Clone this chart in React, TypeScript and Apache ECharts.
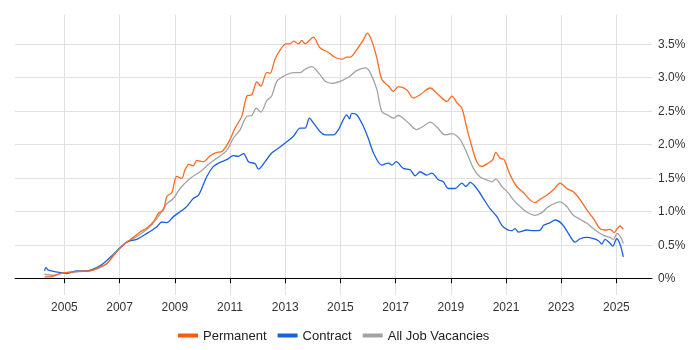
import React, { useEffect, useRef } from "react";
import * as echarts from "echarts";

const xTickYears = [2005, 2007, 2009, 2011, 2013, 2015, 2017, 2019, 2021, 2023, 2025];
const yTickValues = [0, 0.5, 1, 1.5, 2, 2.5, 3, 3.5];

const permYears = [2004.28, 2004.48, 2004.84, 2005.21, 2005.57, 2005.93, 2006.29, 2006.54, 2006.84, 2006.99, 2007.26, 2007.5, 2007.74, 2007.99, 2008.22, 2008.41, 2008.59, 2008.71, 2008.89, 2009.07, 2009.25, 2009.37, 2009.52, 2009.67, 2009.8, 2010.04, 2010.28, 2010.52, 2010.7, 2011.0, 2011.18, 2011.43, 2011.61, 2011.79, 2011.97, 2012.12, 2012.33, 2012.45, 2012.63, 2012.82, 2013.03, 2013.18, 2013.3, 2013.48, 2013.6, 2013.72, 2014.02, 2014.26, 2014.57, 2014.75, 2015.05, 2015.23, 2015.35, 2015.59, 2015.83, 2015.98, 2016.14, 2016.32, 2016.5, 2016.74, 2016.92, 2017.1, 2017.41, 2017.64, 2017.89, 2018.25, 2018.55, 2018.86, 2019.04, 2019.22, 2019.4, 2019.58, 2019.76, 2019.94, 2020.12, 2020.36, 2020.52, 2020.63, 2020.79, 2020.93, 2021.15, 2021.39, 2021.63, 2021.87, 2022.05, 2022.24, 2022.48, 2022.72, 2022.96, 2023.2, 2023.44, 2023.69, 2023.93, 2024.17, 2024.41, 2024.65, 2024.77, 2024.92, 2025.01, 2025.13, 2025.25];
const permValues = [0.02, 0.02, 0.07, 0.09, 0.105, 0.11, 0.17, 0.22, 0.37, 0.44, 0.54, 0.61, 0.69, 0.75, 0.84, 0.97, 1.02, 1.22, 1.28, 1.52, 1.49, 1.62, 1.7, 1.68, 1.76, 1.74, 1.83, 1.88, 1.89, 2.07, 2.24, 2.42, 2.72, 2.74, 2.93, 2.87, 3.07, 3.06, 3.27, 3.41, 3.5, 3.5, 3.54, 3.5, 3.55, 3.5, 3.6, 3.44, 3.37, 3.31, 3.27, 3.3, 3.3, 3.41, 3.56, 3.66, 3.54, 3.29, 2.97, 2.87, 2.79, 2.86, 2.81, 2.69, 2.74, 2.84, 2.74, 2.64, 2.72, 2.62, 2.54, 2.24, 1.97, 1.74, 1.67, 1.72, 1.77, 1.88, 1.79, 1.77, 1.54, 1.37, 1.28, 1.17, 1.13, 1.18, 1.24, 1.32, 1.42, 1.34, 1.29, 1.17, 1.02, 0.89, 0.74, 0.72, 0.73, 0.68, 0.73, 0.78, 0.73];

const contractYears = [2004.28, 2004.33, 2004.42, 2004.78, 2005.09, 2005.45, 2005.81, 2006.17, 2006.41, 2006.78, 2007.26, 2007.62, 2007.99, 2008.35, 2008.53, 2008.71, 2008.95, 2009.25, 2009.43, 2009.67, 2009.86, 2010.16, 2010.4, 2010.64, 2010.88, 2011.12, 2011.3, 2011.49, 2011.67, 2011.91, 2012.03, 2012.27, 2012.51, 2012.75, 2013.0, 2013.3, 2013.54, 2013.72, 2013.88, 2014.02, 2014.26, 2014.45, 2014.75, 2014.93, 2015.05, 2015.23, 2015.33, 2015.41, 2015.59, 2015.83, 2016.01, 2016.2, 2016.5, 2016.74, 2016.86, 2017.02, 2017.28, 2017.53, 2017.71, 2017.89, 2018.13, 2018.31, 2018.55, 2018.73, 2018.91, 2019.16, 2019.4, 2019.55, 2019.7, 2019.94, 2020.18, 2020.42, 2020.67, 2020.85, 2021.03, 2021.21, 2021.33, 2021.45, 2021.75, 2021.99, 2022.24, 2022.36, 2022.6, 2022.78, 2023.03, 2023.26, 2023.5, 2023.69, 2023.93, 2024.17, 2024.35, 2024.47, 2024.59, 2024.75, 2024.87, 2025.01, 2025.13, 2025.25];
const contractValues = [0.11, 0.16, 0.12, 0.09, 0.07, 0.11, 0.11, 0.16, 0.22, 0.36, 0.54, 0.58, 0.67, 0.77, 0.84, 0.83, 0.92, 1.01, 1.07, 1.19, 1.24, 1.52, 1.67, 1.73, 1.77, 1.83, 1.82, 1.86, 1.74, 1.71, 1.63, 1.74, 1.87, 1.94, 2.02, 2.12, 2.24, 2.24, 2.39, 2.32, 2.19, 2.14, 2.14, 2.22, 2.32, 2.44, 2.38, 2.46, 2.44, 2.27, 2.09, 1.87, 1.69, 1.72, 1.69, 1.74, 1.64, 1.62, 1.53, 1.59, 1.54, 1.57, 1.47, 1.44, 1.34, 1.34, 1.42, 1.37, 1.43, 1.34, 1.19, 1.04, 0.92, 0.79, 0.73, 0.71, 0.74, 0.69, 0.72, 0.71, 0.72, 0.79, 0.83, 0.87, 0.81, 0.67, 0.54, 0.59, 0.61, 0.59, 0.56, 0.51, 0.58, 0.53, 0.48, 0.59, 0.51, 0.32];

const allYears = [2004.28, 2004.6, 2004.96, 2005.21, 2005.57, 2005.93, 2006.29, 2006.54, 2006.84, 2006.99, 2007.26, 2007.5, 2007.99, 2008.35, 2008.71, 2008.95, 2009.19, 2009.55, 2009.92, 2010.28, 2010.52, 2010.88, 2011.12, 2011.37, 2011.61, 2011.79, 2011.95, 2012.12, 2012.33, 2012.51, 2012.7, 2013.0, 2013.3, 2013.54, 2013.72, 2013.96, 2014.26, 2014.45, 2014.69, 2014.99, 2015.29, 2015.59, 2015.9, 2016.08, 2016.32, 2016.5, 2016.74, 2016.92, 2017.1, 2017.46, 2017.77, 2018.01, 2018.25, 2018.49, 2018.79, 2019.04, 2019.34, 2019.58, 2019.82, 2020.06, 2020.3, 2020.49, 2020.63, 2020.85, 2021.09, 2021.27, 2021.51, 2021.75, 2022.05, 2022.3, 2022.54, 2022.96, 2023.2, 2023.44, 2023.69, 2023.93, 2024.23, 2024.53, 2024.77, 2024.89, 2025.03, 2025.16, 2025.25];
const allValues = [0.06, 0.045, 0.08, 0.09, 0.1, 0.11, 0.16, 0.22, 0.37, 0.44, 0.54, 0.59, 0.73, 0.89, 1.11, 1.19, 1.34, 1.49, 1.59, 1.72, 1.79, 1.91, 2.09, 2.22, 2.42, 2.43, 2.54, 2.48, 2.65, 2.72, 2.94, 3.03, 3.07, 3.07, 3.12, 3.16, 3.04, 2.94, 2.91, 2.94, 3.0, 3.1, 3.14, 3.07, 2.82, 2.49, 2.43, 2.39, 2.43, 2.32, 2.22, 2.27, 2.33, 2.26, 2.14, 2.16, 2.07, 1.87, 1.64, 1.51, 1.47, 1.44, 1.48, 1.37, 1.27, 1.17, 1.07, 0.99, 0.94, 0.98, 1.07, 1.14, 1.07, 0.94, 0.88, 0.82, 0.72, 0.64, 0.61, 0.58, 0.67, 0.61, 0.52];

const pair = (xs: number[], ys: number[]) => xs.map((x, i) => [x, ys[i]]);

const FONT = "'Liberation Sans', Arial, sans-serif";

export default function App() {
  const ref = useRef<HTMLDivElement>(null);
  useEffect(() => {
    if (!ref.current) return;
    const chart = echarts.init(ref.current, undefined, { renderer: "svg" });
    chart.setOption({
      animation: false,
      textStyle: { fontFamily: FONT },
      grid: { left: 15, right: 48, top: 15, bottom: 55, containLabel: false },
      legend: {
        bottom: 3,
        left: 173,
        itemWidth: 20,
        itemHeight: 4,
        itemGap: 11,
        icon: "rect",
        textStyle: { fontFamily: FONT, fontSize: 13, color: "#222" },
        data: ["Permanent", "Contract", "All Job Vacancies"],
      },
      xAxis: {
        type: "value",
        min: 2003.21,
        max: 2026.29,
        axisLine: { show: true, lineStyle: { color: "#000", width: 1 } },
        axisTick: { show: true, length: 5, lineStyle: { color: "#000" }, customValues: xTickYears },
        axisLabel: { customValues: xTickYears, formatter: (v: number) => String(Math.round(v)), color: "#333", fontSize: 12, fontFamily: FONT, margin: 6 },
        splitLine: { show: true, lineStyle: { color: "#e0e0e0", width: 1 } },
      },
      yAxis: {
        type: "value",
        position: "right",
        min: -0.25,
        max: 3.93,
        axisLine: { show: false },
        axisTick: { show: false, customValues: yTickValues },
        axisLabel: {
          customValues: yTickValues,
          formatter: (v: number) => (v === 0 ? "0%" : v.toFixed(1) + "%"),
          color: "#333",
          fontSize: 12,
          fontFamily: FONT,
          margin: 6,
          align: "left",
        },
        splitLine: { show: true, lineStyle: { color: "#e0e0e0", width: 1 } },
      },
      series: [
        {
          name: "Permanent",
          type: "line",
          data: pair(permYears, permValues),
          symbol: "none",
          smooth: 0.3,
          lineStyle: { color: "#ff6a1f", width: 1.3 },
          itemStyle: { color: "#ff5a0a" },
          z: 3,
        },
        {
          name: "Contract",
          type: "line",
          data: pair(contractYears, contractValues),
          symbol: "none",
          smooth: 0.3,
          lineStyle: { color: "#1a5fe0", width: 1.3 },
          itemStyle: { color: "#1a5fe0" },
          z: 2,
        },
        {
          name: "All Job Vacancies",
          type: "line",
          data: pair(allYears, allValues),
          symbol: "none",
          smooth: 0.3,
          lineStyle: { color: "#a3a3a3", width: 1.3 },
          itemStyle: { color: "#a3a3a3" },
          z: 1,
        },
      ],
    });
    return () => chart.dispose();
  }, []);
  return <div ref={ref} style={{ position: "fixed", left: 0, top: 0, width: 700, height: 350 }} />;
}
